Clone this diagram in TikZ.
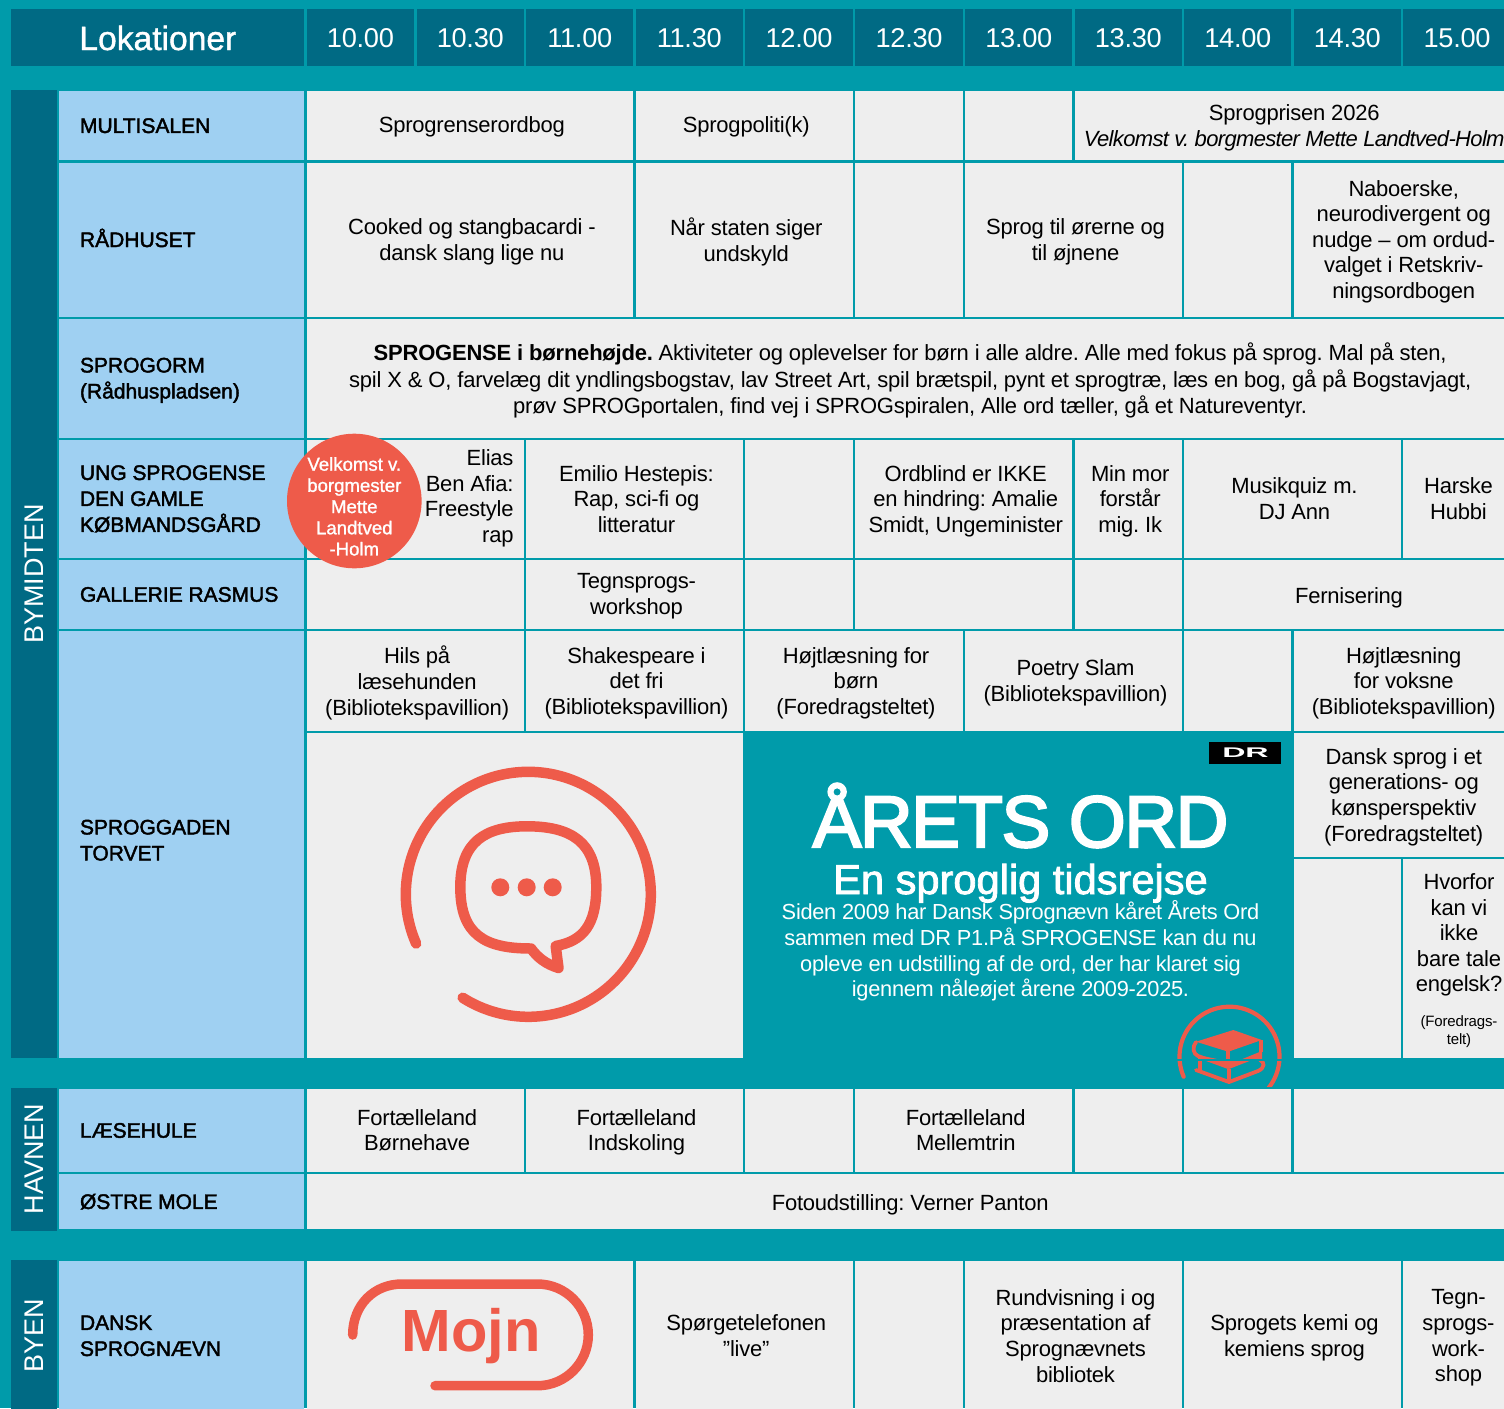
\documentclass[tikz,border=0pt]{standalone}
\usepackage{fontspec}
\setmainfont{Liberation Sans}[LetterSpace=-1]
\newfontfamily\plainfont{Liberation Sans}
\newfontfamily\medfont{Liberation Sans}[FakeBold=2]
\newfontfamily\lightmed{Liberation Sans}[FakeBold=1.2]
\newfontfamily\titlefont{Liberation Sans}[FakeBold=3,LetterSpace=-2]
\AtBeginDocument{\frenchspacing}
\definecolor{tealbg}{RGB}{0,155,170}
\definecolor{darkteal}{RGB}{0,106,132}
\definecolor{lightblue}{RGB}{159,208,242}
\definecolor{cellgray}{RGB}{238,238,238}
\definecolor{redicon}{RGB}{238,91,74}
\def\VA{305.3}\def\VB{415.5}\def\VC{525}\def\VD{634.5}\def\VE{744}\def\VF{854}
\def\VG{964}\def\VH{1073.5}\def\VI{1183}\def\VJ{1292.5}\def\VK{1402}\def\VL{1511}
% #1 name, #2 x1, #3 y1, #4 x2, #5 y2, #6 text
\newcommand{\cellbox}[6]{%
  \fill[cellgray] ({#2+1.3},{#3+1.3}) rectangle ({#4-1.3},{#5-1.3});
  \node[celltext] (#1) at ({(#2+#4)/2},{(#3+#5)/2}) {#6};}
\newcommand{\headbox}[4]{%
  \fill[darkteal] ({#2+1.3},9) rectangle ({#3-1.3},66);
  \node[headtext] (#1) at ({(#2+#3)/2},38) {#4};}
\newcommand{\labelbox}[5][0]{%
  \fill[lightblue] (59,{#3+1.3}) rectangle (304,{#4-1.3});
  \node[labeltext] (#2) at (80,{(#3+#4)/2+#1}) {#5};}
\newcommand{\bandbox}[4]{%
  \fill[darkteal] (11,#2) rectangle (57,#3);
  \node[bandtext] (#1) at (34,#4) {\plainfont\fontsize{13.5}{15}\selectfont #1};}
\tikzset{
  strutted/.style={inner sep=0pt,outer sep=0pt,execute at begin node=\strut,execute at end node=\strut},
  celltext/.style={strutted,xshift=1pt,yshift=-1.75pt,align=center,font=\fontsize{11}{12.8}\selectfont},
  headtext/.style={inner sep=0pt,text=white,font=\fontsize{13.6}{15}\selectfont},
  labeltext/.style={strutted,yshift=-1pt,anchor=west,align=left,font=\medfont\fontsize{10.5}{13}\selectfont},
  bandtext/.style={inner sep=0pt,text=white,rotate=90},
  redline/.style={draw=redicon,line cap=round,line join=round},
  whitebase/.style={inner sep=0pt,anchor=base,text=white},
  parabase/.style={whitebase,font=\addfontfeature{LetterSpace=-1.3}\fontsize{10.9}{12.75}\selectfont},
}
\begin{document}
\begin{tikzpicture}[x=0.5pt,y=-0.5pt]
\useasboundingbox (0,0) rectangle (1504,1408);
\clip (0,0) rectangle (1504,1408);
\fill[tealbg] (0,0) rectangle (1504,1408);
% header
\fill[darkteal] (11,9) rectangle (304,66);
\node[inner sep=0pt,anchor=west,text=white,font=\lightmed\fontsize{16.8}{18}\selectfont] (lok) at (79,38) {Lokationer};
\headbox{t1}{\VA}{\VB}{10.00}
\headbox{t2}{\VB}{\VC}{10.30}
\headbox{t3}{\VC}{\VD}{11.00}
\headbox{t4}{\VD}{\VE}{11.30}
\headbox{t5}{\VE}{\VF}{12.00}
\headbox{t6}{\VF}{\VG}{12.30}
\headbox{t7}{\VG}{\VH}{13.00}
\headbox{t8}{\VH}{\VI}{13.30}
\headbox{t9}{\VI}{\VJ}{14.00}
\headbox{t10}{\VJ}{\VK}{14.30}
\headbox{t11}{\VK}{1512}{15.00}
% bands
\bandbox{BYMIDTEN}{90}{1058}{574}
\bandbox{HAVNEN}{1088}{1230.5}{1159}
\bandbox{BYEN}{1260}{1412}{1336}
% labels
\labelbox{lmulti}{90}{161.5}{MULTISALEN}
\labelbox{lrad}{161.5}{318}{RÅDHUSET}
\labelbox[1.5]{lorm}{318}{439}{SPROGORM\\(Rådhuspladsen)}
\labelbox[1.5]{lung}{439}{559}{UNG SPROGENSE\\DEN GAMLE\\KØBMANDSGÅRD}
\labelbox{lgal}{559}{630}{GALLERIE RASMUS}
\fill[lightblue] (59,631.3) rectangle (304,1058);
\node[labeltext] (lgad) at (80,842) {SPROGGADEN\\TORVET};
\labelbox{llas}{1088}{1173}{LÆSEHULE}
\labelbox{lost}{1173}{1230.5}{ØSTRE MOLE}
\labelbox[1.5]{ldsn}{1260}{1412}{DANSK\\SPROGNÆVN}
% Multisalen
\cellbox{a1}{\VA}{90}{\VD}{161.5}{\raisebox{.75pt}{Sprogrenserordbog}}
\cellbox{a2}{\VD}{90}{\VF}{161.5}{\raisebox{.75pt}{Sprogpoliti(k)}}
\cellbox{a3}{\VF}{90}{\VG}{161.5}{}
\cellbox{a4}{\VG}{90}{\VH}{161.5}{}
\cellbox{a5}{\VH}{90}{\VL}{161.5}{Sprogprisen 2026\\[0.5pt]\itshape\addfontfeature{LetterSpace=-3}Velkomst v. borgmester Mette Landtved-Holm}
% Raadhuset
\cellbox{b1}{\VA}{161.5}{\VD}{318}{Cooked og stangbacardi -\\dansk slang lige nu}
\cellbox{b2}{\VD}{161.5}{\VF}{318}{Når staten siger\\undskyld}
\cellbox{b3}{\VF}{161.5}{\VG}{318}{}
\cellbox{b4}{\VG}{161.5}{\VI}{318}{Sprog til ørerne og\\til øjnene}
\cellbox{b5}{\VI}{161.5}{\VJ}{318}{}
\cellbox{b6}{\VJ}{161.5}{\VL}{318}{Naboerske,\\neurodivergent og\\nudge – om ordud-\\valget i Retskriv-\\ningsordbogen}
% Sprogorm
\cellbox{c1}{\VA}{318}{\VL}{439}{\textbf{SPROGENSE i børnehøjde.} Aktiviteter og oplevelser for børn i alle aldre. Alle med fokus på sprog. Mal på sten,\\[0.5pt]spil X \& O, farvelæg dit yndlingsbogstav, lav Street Art, spil brætspil, pynt et sprogtræ, læs en bog, gå på Bogstavjagt,\\[0.5pt]prøv SPROGportalen, find vej i SPROGspiralen, Alle ord tæller, gå et Natureventyr.}
% Ung
\cellbox{d1}{\VA}{439}{\VC}{559}{}
\node[celltext,align=right,anchor=east] (d1t) at (511.5,496.5) {Elias\\Ben Afia:\\Freestyle\\rap};
\cellbox{d2}{\VC}{439}{\VE}{559}{Emilio Hestepis:\\Rap, sci-fi og\\litteratur}
\cellbox{d3}{\VE}{439}{\VF}{559}{}
\cellbox{d4}{\VF}{439}{\VH}{559}{Ordblind er IKKE\\en hindring: Amalie\\Smidt, Ungeminister}
\cellbox{d5}{\VH}{439}{\VI}{559}{Min mor\\forstår\\mig. Ik}
\cellbox{d6}{\VI}{439}{\VK}{559}{Musikquiz m.\\DJ Ann}
\cellbox{d7}{\VK}{439}{\VL}{559}{Harske\\Hubbi}
% Gallerie
\cellbox{e1}{\VA}{559}{\VC}{630}{}
\cellbox{e2}{\VC}{559}{\VE}{630}{Tegnsprogs-\\workshop}
\cellbox{e3}{\VE}{559}{\VF}{630}{}
\cellbox{e4}{\VF}{559}{\VH}{630}{}
\cellbox{e5}{\VH}{559}{\VI}{630}{}
\cellbox{e6}{\VI}{559}{\VL}{630}{Fernisering}
% Sproggaden
\cellbox{f1}{\VA}{630}{\VC}{732}{Hils på\\læsehunden\\(Bibliotekspavillion)}
\cellbox{f2}{\VC}{630}{\VE}{732}{Shakespeare i\\det fri\\(Bibliotekspavillion)}
\cellbox{f3}{\VE}{630}{\VG}{732}{Højtlæsning for\\børn\\(Foredragsteltet)}
\cellbox{f4}{\VG}{630}{\VI}{732}{Poetry Slam\\(Bibliotekspavillion)}
\cellbox{f5}{\VI}{630}{\VJ}{732}{}
\cellbox{f6}{\VJ}{630}{\VL}{732}{Højtlæsning\\for voksne\\(Bibliotekspavillion)}
\cellbox{g1}{\VA}{732}{\VE}{1059.3}{}
\cellbox{g2}{\VJ}{732}{\VL}{858}{Dansk sprog i et\\generations- og\\kønsperspektiv\\(Foredragsteltet)}
\cellbox{g3}{\VJ}{858}{\VK}{1059.3}{}
\cellbox{g4}{\VK}{858}{\VL}{1059.3}{}
\node[celltext] (g4a) at (1457,933) {Hvorfor\\kan vi\\ikke\\bare tale\\engelsk?};
\node[strutted,align=center,font=\fontsize{7.5}{9}\selectfont] (g4b) at (1459,1033) {(Foredrags-\\telt)};
% Havnen
\cellbox{h1}{\VA}{1088}{\VC}{1173}{Fortælleland\\Børnehave}
\cellbox{h2}{\VC}{1088}{\VE}{1173}{Fortælleland\\Indskoling}
\cellbox{h3}{\VE}{1088}{\VF}{1173}{}
\cellbox{h4}{\VF}{1088}{\VH}{1173}{Fortælleland\\Mellemtrin}
\cellbox{h5}{\VH}{1088}{\VI}{1173}{}
\cellbox{h6}{\VI}{1088}{\VJ}{1173}{}
\cellbox{h7}{\VJ}{1088}{\VL}{1173}{}
\cellbox{i1}{\VA}{1173}{\VL}{1230.5}{Fotoudstilling: Verner Panton}
% Byen
\cellbox{j1}{\VA}{1260}{\VD}{1412}{}
\cellbox{j2}{\VD}{1260}{\VF}{1412}{Spørgetelefonen\\”live”}
\cellbox{j3}{\VF}{1260}{\VG}{1412}{}
\cellbox{j4}{\VG}{1260}{\VI}{1412}{Rundvisning i og\\præsentation af\\Sprognævnets\\bibliotek}
\cellbox{j5}{\VI}{1260}{\VK}{1412}{Sprogets kemi og\\kemiens sprog}
\cellbox{j6}{\VK}{1260}{\VL}{1412}{Tegn-\\sprogs-\\work-\\shop}
% red circle
\node[circle,fill=redicon,minimum size=67.3pt,inner sep=0pt] (velk) at (354.3,501) {};
\node[strutted,align=center,text=white,font=\lightmed\fontsize{9.3}{10.6}\selectfont] (velkt) at (354.3,509.5) {Velkomst v.\\borgmester\\Mette\\Landtved\\-Holm};
% speech icon
\draw[redline,line width=5.25pt] plot[domain=156.3:482.4,samples=120,smooth] ({528.3+122.5*cos(\x)},{894.3+122.5*sin(\x)});
\draw[redline,line width=5.25pt] (531,948.5) .. controls (485,948.5) and (460.3,935) .. (460.3,887)
  .. controls (460.3,842) and (485,826.3) .. (527,826.3)
  .. controls (571,826.3) and (596.3,842) .. (596.3,887)
  .. controls (596.3,925) and (583,941) .. (555.7,946)
  -- (558.5,968) .. controls (546,964) and (538,958) .. cycle;
\fill[redicon] (500.3,887.3) circle (9) (526.7,887.3) circle (9) (552.7,887.3) circle (9);
% Aarets ord block
\fill[tealbg] (744,732) rectangle (1293,1060);
\fill[black] (1209,742) rectangle (1281,764);
\node[inner sep=0pt,text=white,font=\bfseries\fontsize{7}{8}\selectfont] (dr) at (1245.5,753) {\scalebox{2.3}[1]{DR}};
\node[whitebase,font=\titlefont\fontsize{36.5}{40}\selectfont] (ao) at (1020.5,847) {ÅRETS ORD};
\node[whitebase,font=\medfont\fontsize{20.8}{24}\selectfont] (tr) at (1020.5,894) {En sproglig tidsrejse};
\node[parabase] (p1) at (1020.5,919) {Siden 2009 har Dansk Sprognævn kåret Årets Ord};
\node[parabase] (p2) at (1020.5,945) {sammen med DR P1.På SPROGENSE kan du nu};
\node[parabase] (p3) at (1020.5,971) {opleve en udstilling af de ord, der har klaret sig};
\node[parabase] (p4) at (1020.5,996) {igennem nåleøjet årene 2009-2025.};
% book icon
\begin{scope}
\clip (1170,1000) rectangle (1290,1086);
\draw[redline,line width=2.1pt] plot[domain=156.4:400,samples=80,smooth] ({1229.5+50*cos(\x)},{1056.7+50*sin(\x)});
\fill[redicon] (1233.3,1030) -- (1261.7,1040) -- (1228.3,1051.7) -- (1196,1041.7) -- cycle;
\draw[redline,line width=1.9pt] (1196,1042) .. controls (1192,1047) and (1193,1054) .. (1198,1056) -- (1228,1067);
\draw[redicon,line width=2pt] (1228.3,1051) -- (1228.3,1060) (1260.5,1040) -- (1260.5,1052);
\fill[redicon] (1198,1055) -- (1222,1060) -- (1198,1060) -- cycle;
\fill[redicon] (1262,1051) -- (1240,1060) -- (1262,1060) -- cycle;
\fill[redicon] (1205,1060) -- (1252,1060) -- (1229,1069) -- cycle;
\draw[redline,line width=1.9pt] (1196,1070) -- (1229,1082) -- (1258,1071) .. controls (1265,1068) and (1265,1062) .. (1260,1060);
\draw[redicon,line width=1.9pt] (1200,1060) -- (1200,1071) (1229,1069) -- (1229,1082);
\fill[tealbg] (1170,1059) rectangle (1290,1061);
\end{scope}
% Mojn
\node[inner sep=0pt,anchor=base,text=redicon,font=\plainfont\bfseries\fontsize{29.8}{32}\selectfont] (mojn) at (471,1351) {Mojn};
\draw[redline,line width=4.75pt] (352.7,1335) .. controls (352.7,1305) and (374,1284) .. (402,1284)
  -- (537.5,1284) .. controls (565.5,1284) and (588.3,1307) .. (588.3,1334.8)
  .. controls (588.3,1362.8) and (565.5,1385.7) .. (537.5,1385.7) -- (435,1385.7);
\end{tikzpicture}
\end{document}
